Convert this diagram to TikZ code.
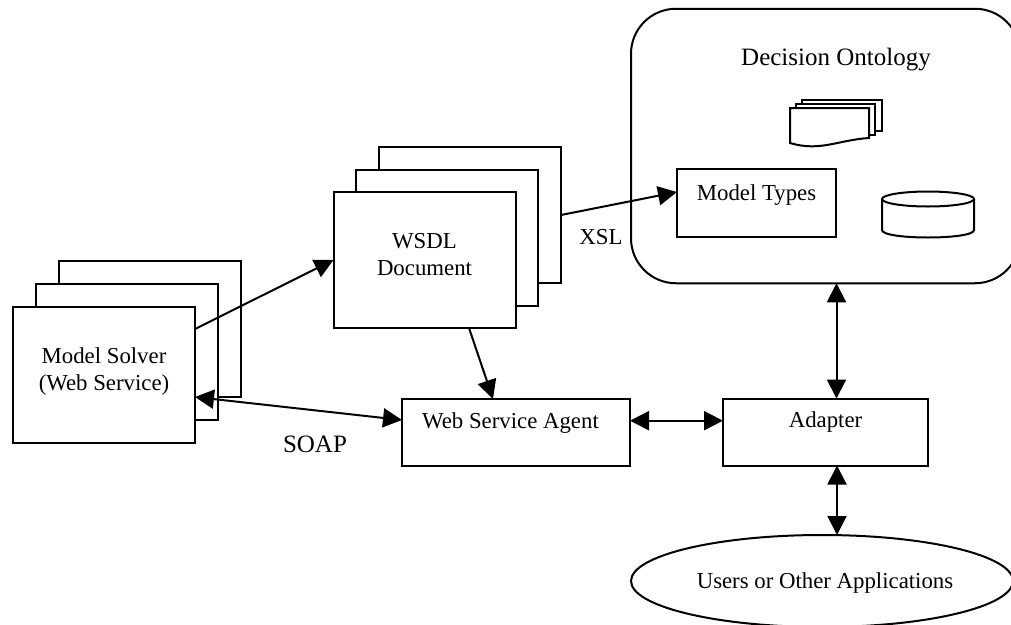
\documentclass[tikz,border=0pt]{standalone}
\usepackage{fontspec}
\setmainfont{Liberation Serif}
\usetikzlibrary{arrows.meta,shapes.geometric}
\begin{document}
\begin{tikzpicture}[x=1pt,y=-1pt,
                    line width=2pt,
                    font=\fontsize{22.8}{26.5}\selectfont]
    \tikzstyle{sheet}=[rectangle,draw,fill=white,minimum width=182pt,minimum height=136pt,inner sep=0pt,outer sep=0pt,align=center,text height=30pt,text depth=0pt]
    \tikzstyle{topbox}=[rectangle,draw,fill=white,minimum height=67pt,inner sep=0pt,outer sep=0pt,text height=17pt,text depth=26pt]
    \tikzstyle{plain}=[inner sep=0pt,outer sep=0pt]
    \tikzstyle{large}=[plain,font=\fontsize{25}{27}\selectfont]
    \tikzstyle{link}=[-{Triangle[length=19pt,width=19pt]}]
    \tikzstyle{twoway}=[{Triangle[length=19pt,width=19pt]}-{Triangle[length=19pt,width=19pt]}]

    \clip (0,0) rectangle (1011,624);

    \node[draw,rectangle,rounded corners=45pt,minimum width=389pt,minimum height=274.5pt,inner sep=0pt,outer sep=0pt] (ontology) at (825.5,146) {};
    \node[large] (ontologytitle) at (836,60) {Decision Ontology};

    \draw[fill=white] (802,100) rectangle (882,131);
    \draw[fill=white] (796,104) rectangle (875,135);
    \draw[fill=white] (790,108) -- (869,108) -- (869,138) .. controls (838,140) and (820,152) .. (790,143) -- cycle;

    \draw (928,199) ellipse [x radius=46,y radius=7.5];
    \draw (882,199) -- (882,230) .. controls (882,240) and (974,240) .. (974,230) -- (974,199);

    \node[sheet] (solverback) at (149.5,329) {};
    \node[sheet] (solvermid) at (127,352) {};
    \node[sheet] (solver) at (104,375) {Model Solver\\(Web Service)};

    \node[sheet] (wsdlback) at (470,215) {};
    \node[sheet] (wsdlmid) at (447,238) {};
    \node[sheet] (wsdl) at (424.5,260) {WSDL\\Document};

    \node[topbox,minimum width=159pt,minimum height=68pt,text depth=23pt] (types) at (756.5,203) {Model Types};
    \node[topbox,minimum width=228pt] (agent) at (516,432.5) {Web Service Agent\hspace*{11pt}};
    \node[topbox,minimum width=205pt] (adapter) at (825.5,432) {Adapter};
    \node[ellipse,draw,minimum width=382pt,minimum height=92pt,inner sep=0pt,outer sep=0pt] (users) at (822,581) {};
    \node[plain] (userstext) at (825,583) {Users or Other Applications};

    \node[plain] (xsl) at (601,237) {XSL};
    \node[large] (soap) at (315,444) {SOAP};

    \draw[link] ([yshift=46pt]solver.east) -- (wsdl.west);
    \draw[twoway] ([yshift=-22pt]solver.east) -- ([yshift=12.5pt]agent.west);
    \draw[link] ([xshift=44.5pt]wsdl.south) -- ([xshift=-23pt]agent.north);
    \draw[link] (wsdlback.east) -- ([yshift=11pt]types.west);
    \draw[twoway] ([yshift=11.8pt]agent.east) -- ([yshift=11.3pt]adapter.west);
    \draw[twoway] ([xshift=11pt]ontology.south) -- ([xshift=11pt]adapter.north);
    \draw[twoway] ([xshift=11.5pt]adapter.south) -- ([xshift=15pt]users.north);
\end{tikzpicture}
\end{document}
